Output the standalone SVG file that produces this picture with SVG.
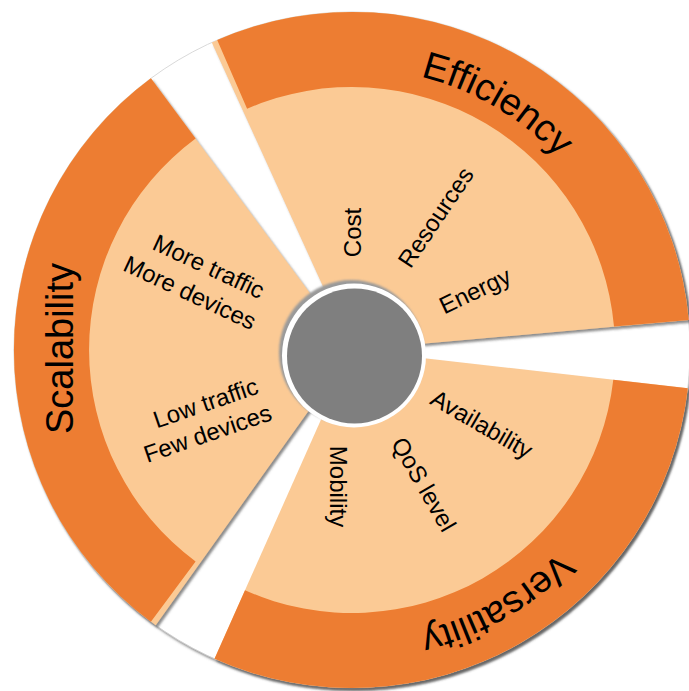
<svg xmlns="http://www.w3.org/2000/svg" width="689" height="691" viewBox="0 0 689 691">
<defs>
<filter id="sh" x="-10%" y="-10%" width="120%" height="120%">
<feDropShadow dx="2" dy="2.5" stdDeviation="1" flood-color="#505050" flood-opacity="0.65"/>
</filter>
<filter id="blur1" x="-10%" y="-10%" width="120%" height="120%">
<feGaussianBlur stdDeviation="1"/>
</filter>
<style>
.light{fill:#FBCA95}
.band{fill:#ED7D31}
.big{font-family:"Liberation Sans",Arial,sans-serif;font-size:38px;fill:#000}
.item{font-family:"Liberation Sans",Arial,sans-serif;font-size:24px;fill:#000;text-anchor:middle}
</style>
<path id="arcEff" d="M305.5,71.9 A282,282 0 0 1 617.8,255.9"/>
<path id="arcVer" d="M623.1,450.3 A289,289 0 0 1 300.3,634.3"/>
</defs>
<rect width="689" height="691" fill="#fff"/>
<g id="background">
<circle cx="352" cy="350" r="338" fill="#fff" stroke="#cfcfcf" stroke-width="0.8" filter="url(#sh)"/>
</g>
<g id="sector-efficiency">
<g filter="url(#sh)">
<path class="light" d="M352,350 L211.8,42.4 A338,338 0 0 1 688.7,320.0 Z"/>
<path class="band" d="M247.1,108.8 L217.2,40.0 A338,338 0 0 1 688.7,320.0 L614.0,326.6 A263,263 0 0 0 247.1,108.8 Z"/>
</g>
<text class="big" text-anchor="middle"><textPath href="#arcEff" startOffset="50%">Efficiency</textPath></text>
<g transform="translate(352.5,232.5) rotate(-90)"><text class="item" dy="0.35em">Cost</text></g>
<g transform="translate(436,217.5) rotate(-56)"><text class="item" dy="0.33em">Resources</text></g>
<g transform="translate(475.5,291.7) rotate(-25.3)"><text class="item" dy="0.3em">Energy</text></g>
</g>
<g id="sector-versatility">
<g filter="url(#sh)">
<path class="light" d="M352,350 L687.8,388.3 A338,338 0 0 1 214.5,658.8 Z"/>
<path class="band" d="M613.3,379.8 L687.8,388.3 A338,338 0 0 1 214.5,658.8 L245.0,590.3 A263,263 0 0 0 613.3,379.8 Z"/>
</g>
<text class="big" text-anchor="middle"><textPath href="#arcVer" startOffset="50%">Versatility</textPath></text>
<g transform="translate(481.5,424.5) rotate(30)"><text class="item" dy="0.33em">Availability</text></g>
<g transform="translate(423.5,484.5) rotate(60)"><text class="item" dy="0.33em">QoS level</text></g>
<g transform="translate(337.5,486.5) rotate(90)"><text class="item" dy="0.33em">Mobility</text></g>
</g>
<g id="sector-scalability">
<g filter="url(#sh)">
<path class="light" d="M352,350 L155.7,625.2 A338,338 0 0 1 150.9,78.3 Z"/>
<path class="band" d="M195.6,561.4 L150.9,621.7 A338,338 0 0 1 150.9,78.3 L195.6,138.6 A263,263 0 0 0 195.6,561.4 Z"/>
</g>
<g transform="translate(73,348.5) rotate(-90)"><text class="big" text-anchor="middle">Scalability</text></g>
<g transform="translate(208.5,267) rotate(25)"><text class="item" dy="0.32em">More traffic</text></g>
<g transform="translate(189.75,293.25) rotate(25)"><text class="item" dy="0.32em">More devices</text></g>
<g transform="translate(205.75,403.5) rotate(-19)"><text class="item" dy="0.32em">Low traffic</text></g>
<g transform="translate(207.75,434) rotate(-19)"><text class="item" dy="0.32em">Few devices</text></g>
</g>
<g id="center">
<circle cx="351.5" cy="352.5" r="72.5" fill="#9a9a9a" filter="url(#blur1)"/>
<circle cx="354" cy="355.5" r="72" fill="#fff"/>
<circle cx="354.5" cy="356" r="67.5" fill="#7F7F7F"/>
</g>
<g id="connectors"/>
</svg>
